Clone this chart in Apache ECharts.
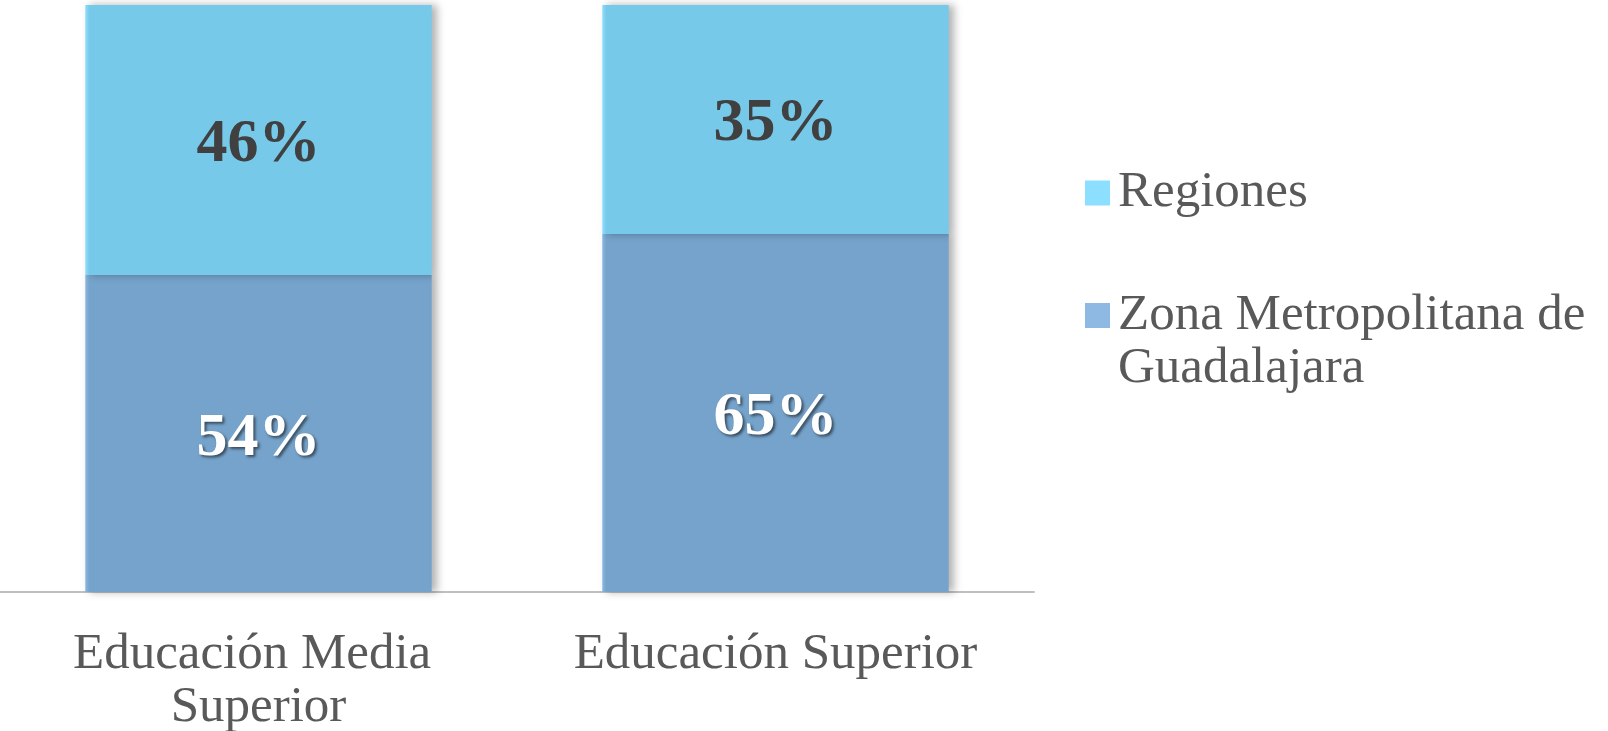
<!DOCTYPE html>
<html>
<head>
<meta charset="utf-8">
<script src="https://cdn.jsdelivr.net/npm/echarts@6/dist/echarts.min.js"></script>
<style>
  html, body { margin: 0; padding: 0; background: #ffffff; }
  #chart { width: 1608px; height: 731px; }
</style>
</head>
<body>
<div id="chart"></div>
<script>
// categorias del eje X
var categorias = ['Educación Media Superior', 'Educación Superior'];
// valores (alto de las barras)
var zonaMetro = [54, 61];
var regiones = [46, 39];
// texto de las etiquetas tal como aparece
var etiquetasZona = ['54%', '65%'];
var etiquetasRegiones = ['46%', '35%'];

var fuente = '"Liberation Serif", "DejaVu Serif", serif';

// cuadrito de la leyenda alineado con la primera linea (caja de 25 x 106)
var iconoDosLineas = 'path://M0,0L0.01,0L0.01,0.01Z M0,14L25,14L25,39L0,39Z M24.99,106L25,106L25,105.99Z';

function barColor(edge, base) {
    return {
        type: 'linear', x: 0, y: 0, x2: 1, y2: 0,
        colorStops: [
            { offset: 0, color: edge },
            { offset: 0.012, color: base },
            { offset: 1, color: base }
        ]
    };
}

var myChart = echarts.init(document.getElementById('chart'));

var option = {
    animation: false,
    grid: { left: 0, right: 574, top: 5, bottom: 139, outerBoundsMode: 'none', containLabel: false },
    legend: [
        {
            left: 1080,
            top: 162,
            orient: 'vertical',
            itemWidth: 25,
            itemHeight: 25,
            icon: 'rect',
            data: [{ name: 'Regiones', itemStyle: { color: '#8CDFFE' } }],
            textStyle: { fontFamily: fuente, fontSize: 51, lineHeight: 52, color: '#595959', padding: [0, 0, 0, 3] }
        },
        {
            left: 1080,
            top: 284,
            orient: 'vertical',
            itemWidth: 25,
            itemHeight: 106,
            icon: iconoDosLineas,
            data: [{ name: 'Zona Metropolitana de Guadalajara', itemStyle: { color: '#8DB9E2' } }],
            formatter: function (name) {
                return name.replace(' de ', ' de\n');
            },
            textStyle: { fontFamily: fuente, fontSize: 51, lineHeight: 53, color: '#595959', padding: [0, 0, 0, 3] }
        }
    ],
    xAxis: {
        type: 'category',
        data: categorias,
        axisLine: { lineStyle: { color: '#BFBFBF', width: 2 } },
        axisTick: { show: false },
        axisLabel: {
            margin: 36,
            fontFamily: fuente,
            fontSize: 51,
            lineHeight: 53,
            color: '#595959',
            width: 470,
            overflow: 'break',
            interval: 0
        }
    },
    yAxis: {
        type: 'value',
        min: 0,
        max: 100,
        show: false,
        splitLine: { show: false }
    },
    series: [
        {
            name: 'Zona Metropolitana de Guadalajara',
            type: 'bar',
            stack: 'total',
            barWidth: '67%',
            data: zonaMetro,
            itemStyle: {
                color: barColor('#88B7E0', '#76A3CB'),
                shadowBlur: 8,
                shadowOffsetX: 5,
                shadowColor: 'rgba(0,0,0,0.3)'
            },
            label: {
                show: true,
                position: 'inside',
                offset: [0, 5],
                formatter: function (p) { return etiquetasZona[p.dataIndex]; },
                fontFamily: fuente,
                fontWeight: 'bold',
                fontSize: 62,
                color: '#ffffff',
                textShadowColor: 'rgba(0,0,0,0.55)',
                textShadowBlur: 3,
                textShadowOffsetX: 2,
                textShadowOffsetY: 2
            }
        },
        {
            name: 'Regiones',
            type: 'bar',
            stack: 'total',
            barWidth: '67%',
            data: regiones,
            itemStyle: {
                color: barColor('#8CDEFC', '#77C9EA'),
                shadowBlur: 8,
                shadowOffsetX: 5,
                shadowColor: 'rgba(0,0,0,0.3)'
            },
            label: {
                show: true,
                position: 'inside',
                offset: [0, 5],
                formatter: function (p) { return etiquetasRegiones[p.dataIndex]; },
                fontFamily: fuente,
                fontWeight: 'bold',
                fontSize: 62,
                color: '#404040'
            }
        }
    ]
};

myChart.setOption(option);
</script>
</body>
</html>
